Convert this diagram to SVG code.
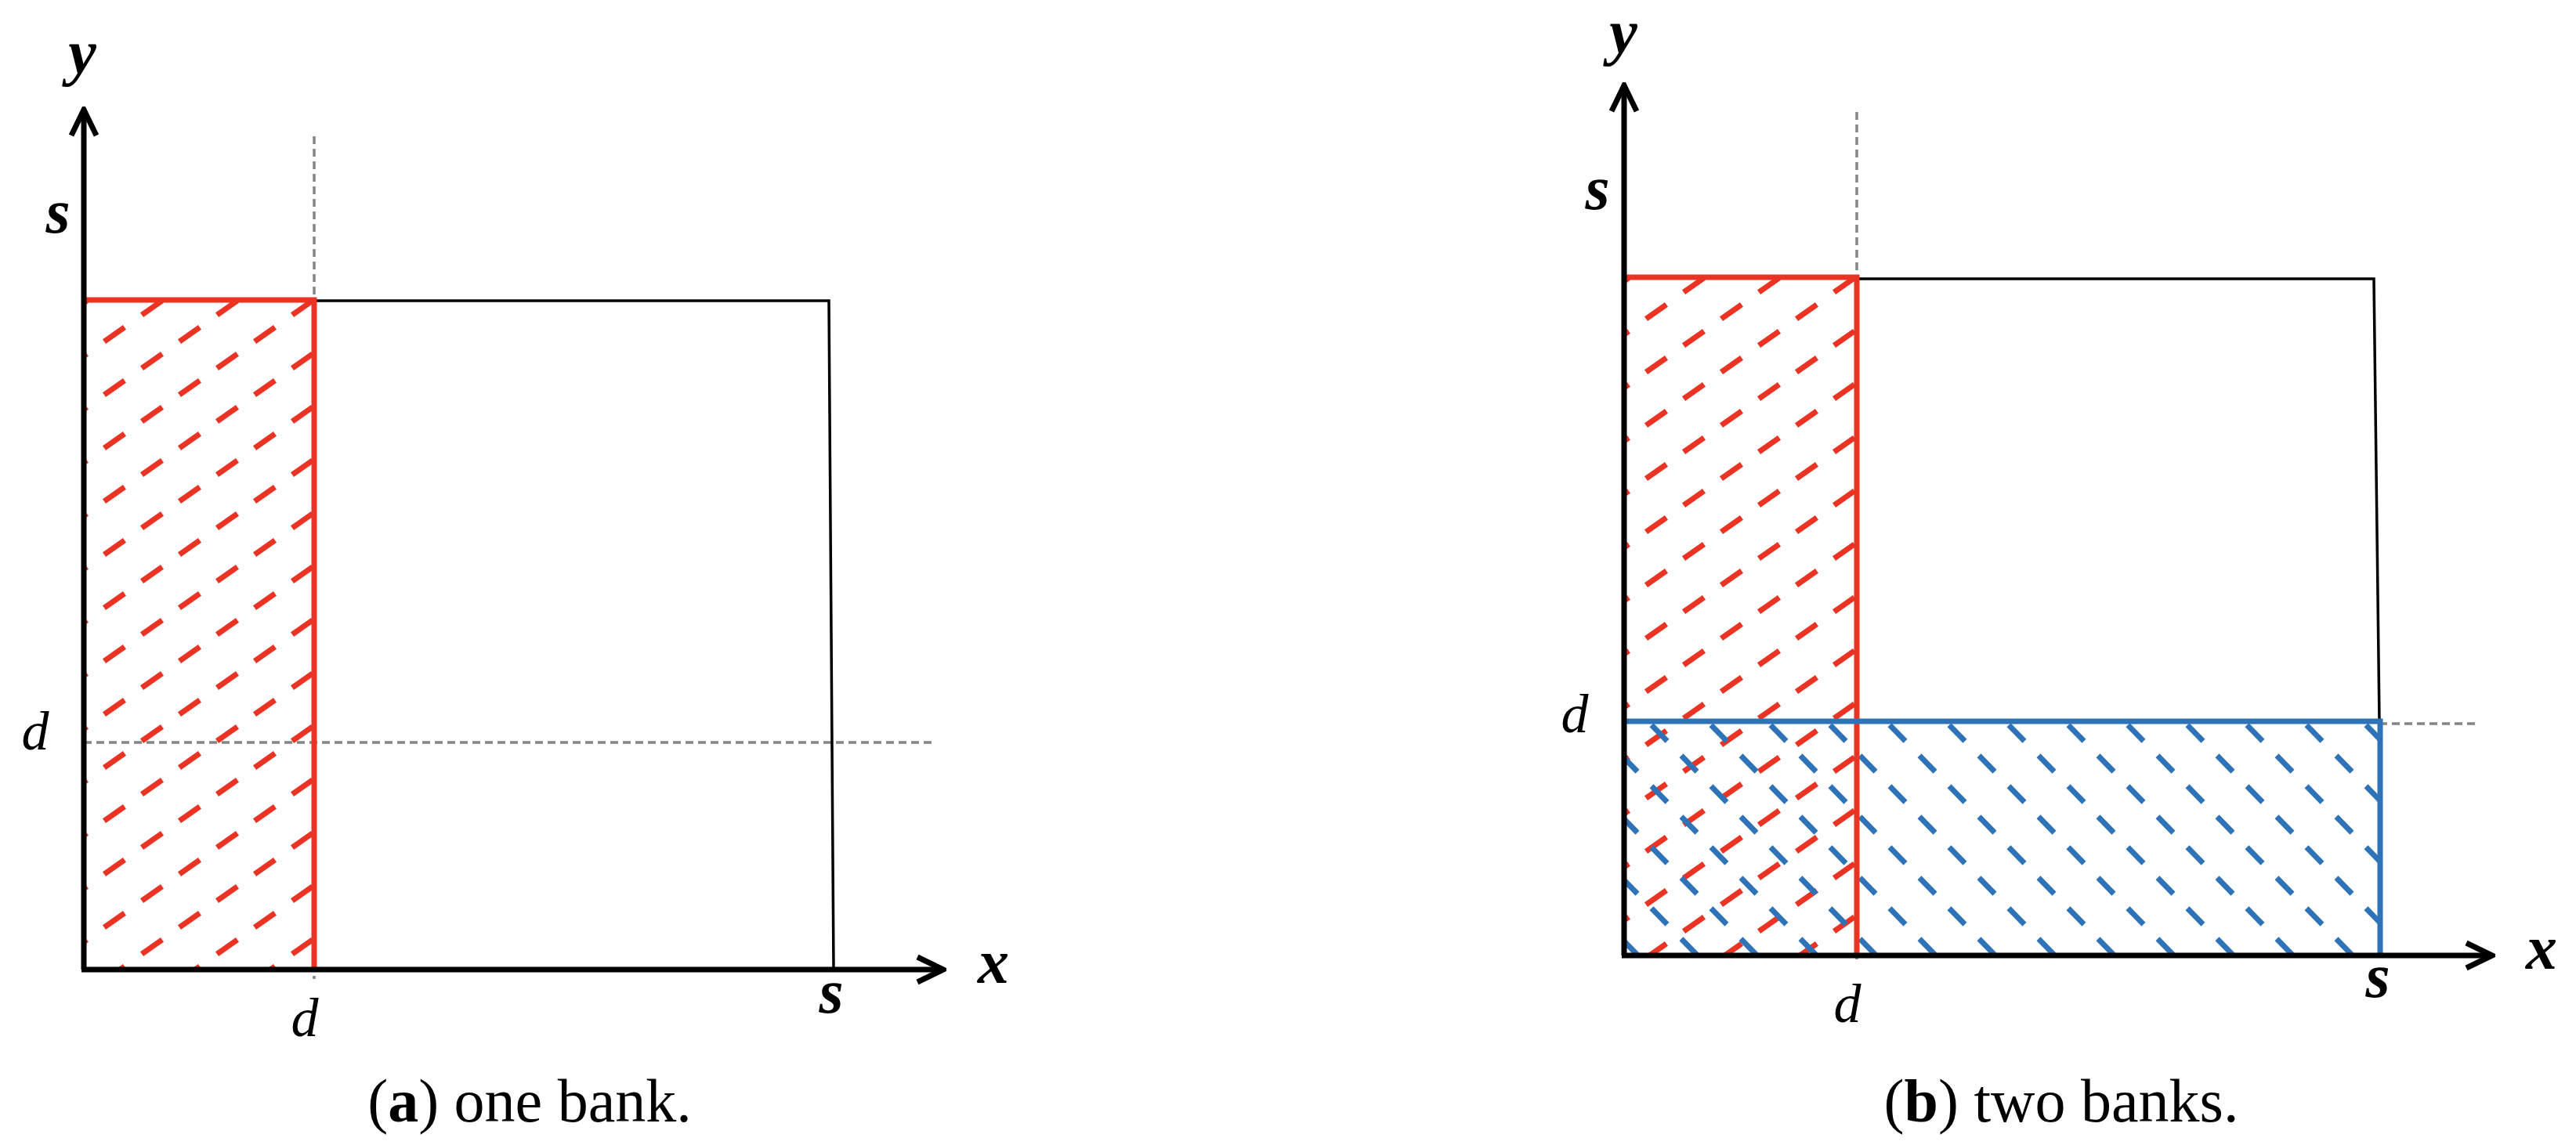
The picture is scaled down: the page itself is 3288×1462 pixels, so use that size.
<svg xmlns="http://www.w3.org/2000/svg" width="3288" height="1462" viewBox="0 0 3288 1462">
  <style>
    .axis { stroke: #000; stroke-width: 7; fill: none; marker-end: url(#arrow); }
    .guide { stroke: #858585; stroke-width: 3.5; stroke-dasharray: 10 6; fill: none; }
    .thin { stroke: #000; stroke-width: 3.5; fill: none; }
    .redline { stroke: #EA3323; stroke-width: 7; fill: none; }
    .blueline { stroke: #2E72B8; stroke-width: 7; fill: none; }
    .var { font-family: "Liberation Serif", "DejaVu Serif", serif; font-style: italic; font-weight: bold; font-size: 80px; text-anchor: middle; fill: #000; }
    .dvar { font-family: "Liberation Serif", "DejaVu Serif", serif; font-style: italic; font-size: 70px; text-anchor: middle; fill: #000; }
    .cap { font-family: "Liberation Serif", "DejaVu Serif", serif; font-size: 78px; text-anchor: middle; fill: #000; }
  </style>
  <defs>
    <marker id="arrow" markerUnits="userSpaceOnUse" viewBox="-40 -20 44 40" markerWidth="44" markerHeight="40" refX="0" refY="0" orient="auto">
      <path d="M -33 -16 L 0 0 L -33 16" fill="none" stroke="#000" stroke-width="7" stroke-linejoin="miter"/>
    </marker>
    <g id="rdash">
      <line x1="-13" y1="9.2" x2="13" y2="-9.2" stroke="#EA3323" stroke-width="7"/>
    </g>
    <g id="bdash">
      <line x1="-10" y1="-10.3" x2="10" y2="10.3" stroke="#2E72B8" stroke-width="7"/>
    </g>
    <pattern id="redA" patternUnits="userSpaceOnUse" x="386" y="393" width="96" height="68">
      <use href="#rdash" x="0" y="0"/><use href="#rdash" x="96" y="0"/>
      <use href="#rdash" x="0" y="68"/><use href="#rdash" x="96" y="68"/>
      <use href="#rdash" x="48" y="34"/>
    </pattern>
    <pattern id="redB" patternUnits="userSpaceOnUse" x="2354" y="364" width="96" height="68">
      <use href="#rdash" x="0" y="0"/><use href="#rdash" x="96" y="0"/>
      <use href="#rdash" x="0" y="68"/><use href="#rdash" x="96" y="68"/>
      <use href="#rdash" x="48" y="34"/>
    </pattern>
    <pattern id="blueB" patternUnits="userSpaceOnUse" x="2118" y="936" width="76" height="78">
      <use href="#bdash" x="0" y="0"/><use href="#bdash" x="76" y="0"/>
      <use href="#bdash" x="0" y="78"/><use href="#bdash" x="76" y="78"/>
      <use href="#bdash" x="38" y="39"/>
    </pattern>
  </defs>
  <rect width="3288" height="1462" fill="#fff"/>

  <g id="panel-a">
    <g id="a-hatch">
      <rect x="107" y="383" width="294" height="855" fill="url(#redA)"/>
    </g>
    <g id="a-guides">
      <line class="guide" x1="401" y1="174" x2="401" y2="1250"/>
      <line class="guide" x1="107" y1="948" x2="1189" y2="948"/>
    </g>
    <g id="a-outline">
      <polyline class="thin" points="401,384 1058,384 1064,1238"/>
      <polyline class="redline" points="107,383 401,383 401,1238"/>
    </g>
    <g id="a-axes">
      <line class="axis" x1="107" y1="1238" x2="107" y2="140"/>
      <line class="axis" x1="104" y1="1238" x2="1204" y2="1238"/>
    </g>
    <g id="a-labels">
      <text class="var" x="105" y="94">y</text>
      <text class="var" x="74" y="297">s</text>
      <text class="dvar" x="45" y="957">d</text>
      <text class="dvar" x="389" y="1323">d</text>
      <text class="var" x="1061" y="1293">s</text>
      <text class="var" x="1268" y="1255">x</text>
      <text class="cap" x="676" y="1432">(<tspan font-weight="bold">a</tspan>) one bank.</text>
    </g>
  </g>

  <g id="panel-b">
    <g id="b-hatch">
      <rect x="2072" y="354" width="298" height="866" fill="url(#redB)"/>
      <rect x="2072" y="921" width="965" height="299" fill="url(#blueB)"/>
    </g>
    <g id="b-guides">
      <line class="guide" x1="2370" y1="143" x2="2370" y2="1230"/>
      <line class="guide" x1="3037" y1="924" x2="3162" y2="924"/>
    </g>
    <g id="b-outline">
      <polyline class="thin" points="2370,356 3030,356 3037,921"/>
      <polyline class="redline" points="2072,354 2370,354 2370,1220"/>
      <polyline class="blueline" points="2072,921 3038,921 3038,1220"/>
    </g>
    <g id="b-axes">
      <line class="axis" x1="2073" y1="1220" x2="2073" y2="109"/>
      <line class="axis" x1="2070" y1="1220" x2="3181" y2="1220"/>
    </g>
    <g id="b-labels">
      <text class="var" x="2072" y="68" font-size="74">y</text>
      <text class="var" x="2039" y="267">s</text>
      <text class="dvar" x="2010" y="935">d</text>
      <text class="dvar" x="2358" y="1305">d</text>
      <text class="var" x="3035" y="1273">s</text>
      <text class="var" x="3244" y="1237">x</text>
      <text class="cap" x="2631" y="1432">(<tspan font-weight="bold">b</tspan>) two banks.</text>
    </g>
  </g>
</svg>
